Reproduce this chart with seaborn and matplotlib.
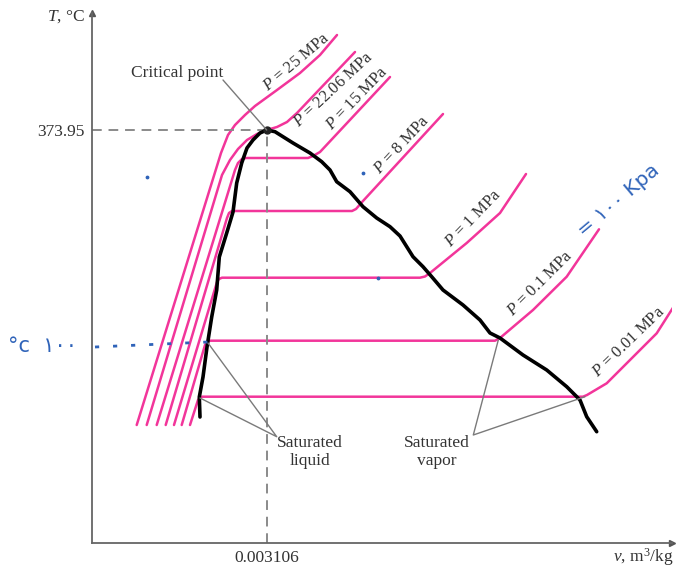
import matplotlib
matplotlib.use("Agg")
import matplotlib.pyplot as plt
import seaborn as sns
import pandas as pd
import numpy as np

# ---------------- data (schematic units: v to the right, T upward) ----------------
isobar_labels = ["25 MPa", "22.06 MPa", "15 MPa", "8 MPa", "1 MPa", "0.1 MPa", "0.01 MPa"]

v_25 = [44.7, 129, 136, 143, 153, 163, 185, 208, 228, 245]
T_25 = [118, 390, 408, 418, 428, 437, 453, 470, 488, 508]

v_2206 = [54.7, 130, 138, 146, 155, 165, 174.7, 185, 195, 205, 263]
T_2206 = [118, 368, 383, 394, 403, 409, 413, 416, 421, 430, 491]

v_15 = [64.7, 143, 146, 150, 154, 216, 221, 228, 298]
T_15 = [118, 373, 380, 384, 385, 385, 387, 391, 466]

v_8 = [73.7, 135, 137, 140, 260, 264, 271, 351]
T_8 = [118, 325, 330, 332, 332, 334, 342, 429]

v_1 = [82, 125, 127, 130, 328, 333, 338, 374.7, 408, 434]
T_1 = [118, 261, 264, 265.3, 265.3, 266.5, 270, 300, 330, 369]

v_01 = [89.7, 113, 115, 118, 403, 408, 441, 474.7, 507]
T_01 = [118, 198, 201, 202.3, 202.3, 205, 233, 266.3, 313.7]

v_001 = [98, 106, 108, 110, 491, 495, 514.7, 538, 564.7, 584]
T_001 = [118, 143, 145.5, 146.3, 146.3, 148, 159.7, 183, 209.7, 240]

dome_v = [108, 107.3, 111, 115, 119.7, 124.7, 127.3, 134.7, 141, 144.7, 149.7, 155, 161,
          168, 174.7, 183, 201, 218, 229.7, 238, 244.7, 258, 271, 284.7, 298, 308, 321,
          331, 339.7, 351, 371, 388, 398, 408, 431, 454.7, 474.7, 488, 494.7, 504.7]
dome_T = [126, 146, 166, 196, 226, 253, 286, 310, 331, 360, 380, 395, 403,
          410, 413, 411.3, 400, 390, 381.3, 373, 361.3, 351.3, 336.3, 325, 316.3, 307, 286.3,
          276.3, 266.3, 253, 238, 223, 210, 205, 188, 173, 156.3, 143, 126.3, 111.3]

critical_v, critical_T = 174.7, 413
critical_T_label, critical_v_label = "373.95", "0.003106"

label_pos_v = [205, 241, 265, 310, 381, 448, 537]
label_pos_T = [481, 453, 445, 398, 325, 260, 201]
label_rot = [40, 43, 46, 47, 46, 45, 44]

# ---------------- style ----------------
sns.set_theme(style="white")
plt.rcParams["font.family"] = ["Liberation Serif", "DejaVu Sans"]
plt.rcParams["mathtext.fontset"] = "custom"
plt.rcParams["mathtext.rm"] = "Liberation Serif"
plt.rcParams["mathtext.it"] = "Liberation Serif:italic"

MAG = "#f2359a"
GRAY = "#7a7a7a"
TXT = "#333333"
BLUE = "#2f63b9"

fig = plt.figure(figsize=(6.76, 5.71), dpi=100)
W, H = 676, 571
ax = fig.add_axes([92 / W, 28 / H, 580 / W, 530 / H])
ax.set_xlim(0, 580)
ax.set_ylim(0, 530)

# isobars
all_v = [v_25, v_2206, v_15, v_8, v_1, v_01, v_001]
all_T = [T_25, T_2206, T_15, T_8, T_1, T_01, T_001]
rows = []
for lab, vs, ts in zip(isobar_labels, all_v, all_T):
    for i, (vv, tt) in enumerate(zip(vs, ts)):
        rows.append({"P": lab, "v": vv, "T": tt, "i": i})
df = pd.DataFrame(rows)
sns.lineplot(data=df, x="v", y="T", units="P", estimator=None, sort=False,
             color=MAG, lw=1.8, ax=ax, legend=False)

# dashed guide lines to critical point
ax.plot([0, critical_v], [critical_T, critical_T], ls=(0, (5, 3.5)), color="#8a8a8a", lw=1.4)
ax.plot([critical_v, critical_v], [0, critical_T], ls=(0, (5, 3.5)), color="#8a8a8a", lw=1.4)

# hand drawn dome
sns.lineplot(x=dome_v, y=dome_T, sort=False, estimator=None, color="black", lw=2.6, ax=ax)
ax.plot([critical_v], [critical_T], "o", color="#222222", ms=5)

# isobar labels
for lab, lv, lt, r in zip(isobar_labels, label_pos_v, label_pos_T, label_rot):
    ax.text(lv, lt, r"$P$ = " + lab, rotation=r, rotation_mode="anchor",
            ha="center", va="center", fontsize=12, color=TXT)

# critical point annotation
ax.plot([131, critical_v], [463, critical_T], color=GRAY, lw=1.0)
ax.text(84.7, 470, "Critical point", ha="center", va="center", fontsize=12.5, color=TXT)

# saturated liquid / vapor
ax.plot([116, 184.7, 108], [200, 106.3, 145], color=GRAY, lw=1.0)
ax.text(218, 91, "Saturated\nliquid", ha="center", va="center", fontsize=12.5,
        color=TXT, linespacing=1.15)
ax.plot([406.3, 381.3, 493], [203, 108, 146.3], color=GRAY, lw=1.0)
ax.text(345, 91, "Saturated\nvapor", ha="center", va="center", fontsize=12.5,
        color=TXT, linespacing=1.15)

# axes / ticks
for s in ["top", "right"]:
    ax.spines[s].set_visible(False)
for s in ["left", "bottom"]:
    ax.spines[s].set_color("#666666")
    ax.spines[s].set_linewidth(1.3)
ax.set_xticks([critical_v])
ax.set_xticklabels([critical_v_label])
ax.set_yticks([critical_T])
ax.set_yticklabels([critical_T_label])
ax.tick_params(length=0, labelsize=12.5, labelcolor=TXT, pad=5)
ax.set_xlabel("")
ax.set_ylabel("")
ax.plot(1, 0, ">", color="#555555", ms=5, transform=ax.get_yaxis_transform(), clip_on=False)
ax.plot(0, 1, "^", color="#555555", ms=5, transform=ax.get_xaxis_transform(), clip_on=False)
ax.text(-7, 526, r"$T$, °C", ha="right", va="center", fontsize=12.5, color=TXT, clip_on=False)
ax.text(581, -14, r"$v$, m$^3$/kg", ha="right", va="center", fontsize=12.5, color=TXT, clip_on=False)

# blue handwritten notes
ax.plot([3, 116], [196, 201], color=BLUE, lw=2, ls=(0, (1.5, 5)))
ax.text(-84, 197, "°c  ١٠٠", ha="left", va="center", fontsize=15, color=BLUE,
        family=["DejaVu Sans"], clip_on=False)
ax.text(526, 343, "= ١٠٠ Kpa", rotation=40, rotation_mode="anchor", ha="center",
        va="center", fontsize=14.5, color=BLUE, family=["DejaVu Sans"], clip_on=False)
ax.scatter([54.7, 271.3, 286.3], [366.3, 369.7, 264.7], s=3, color=BLUE, zorder=5)

fig.savefig("out.png", dpi=100)
